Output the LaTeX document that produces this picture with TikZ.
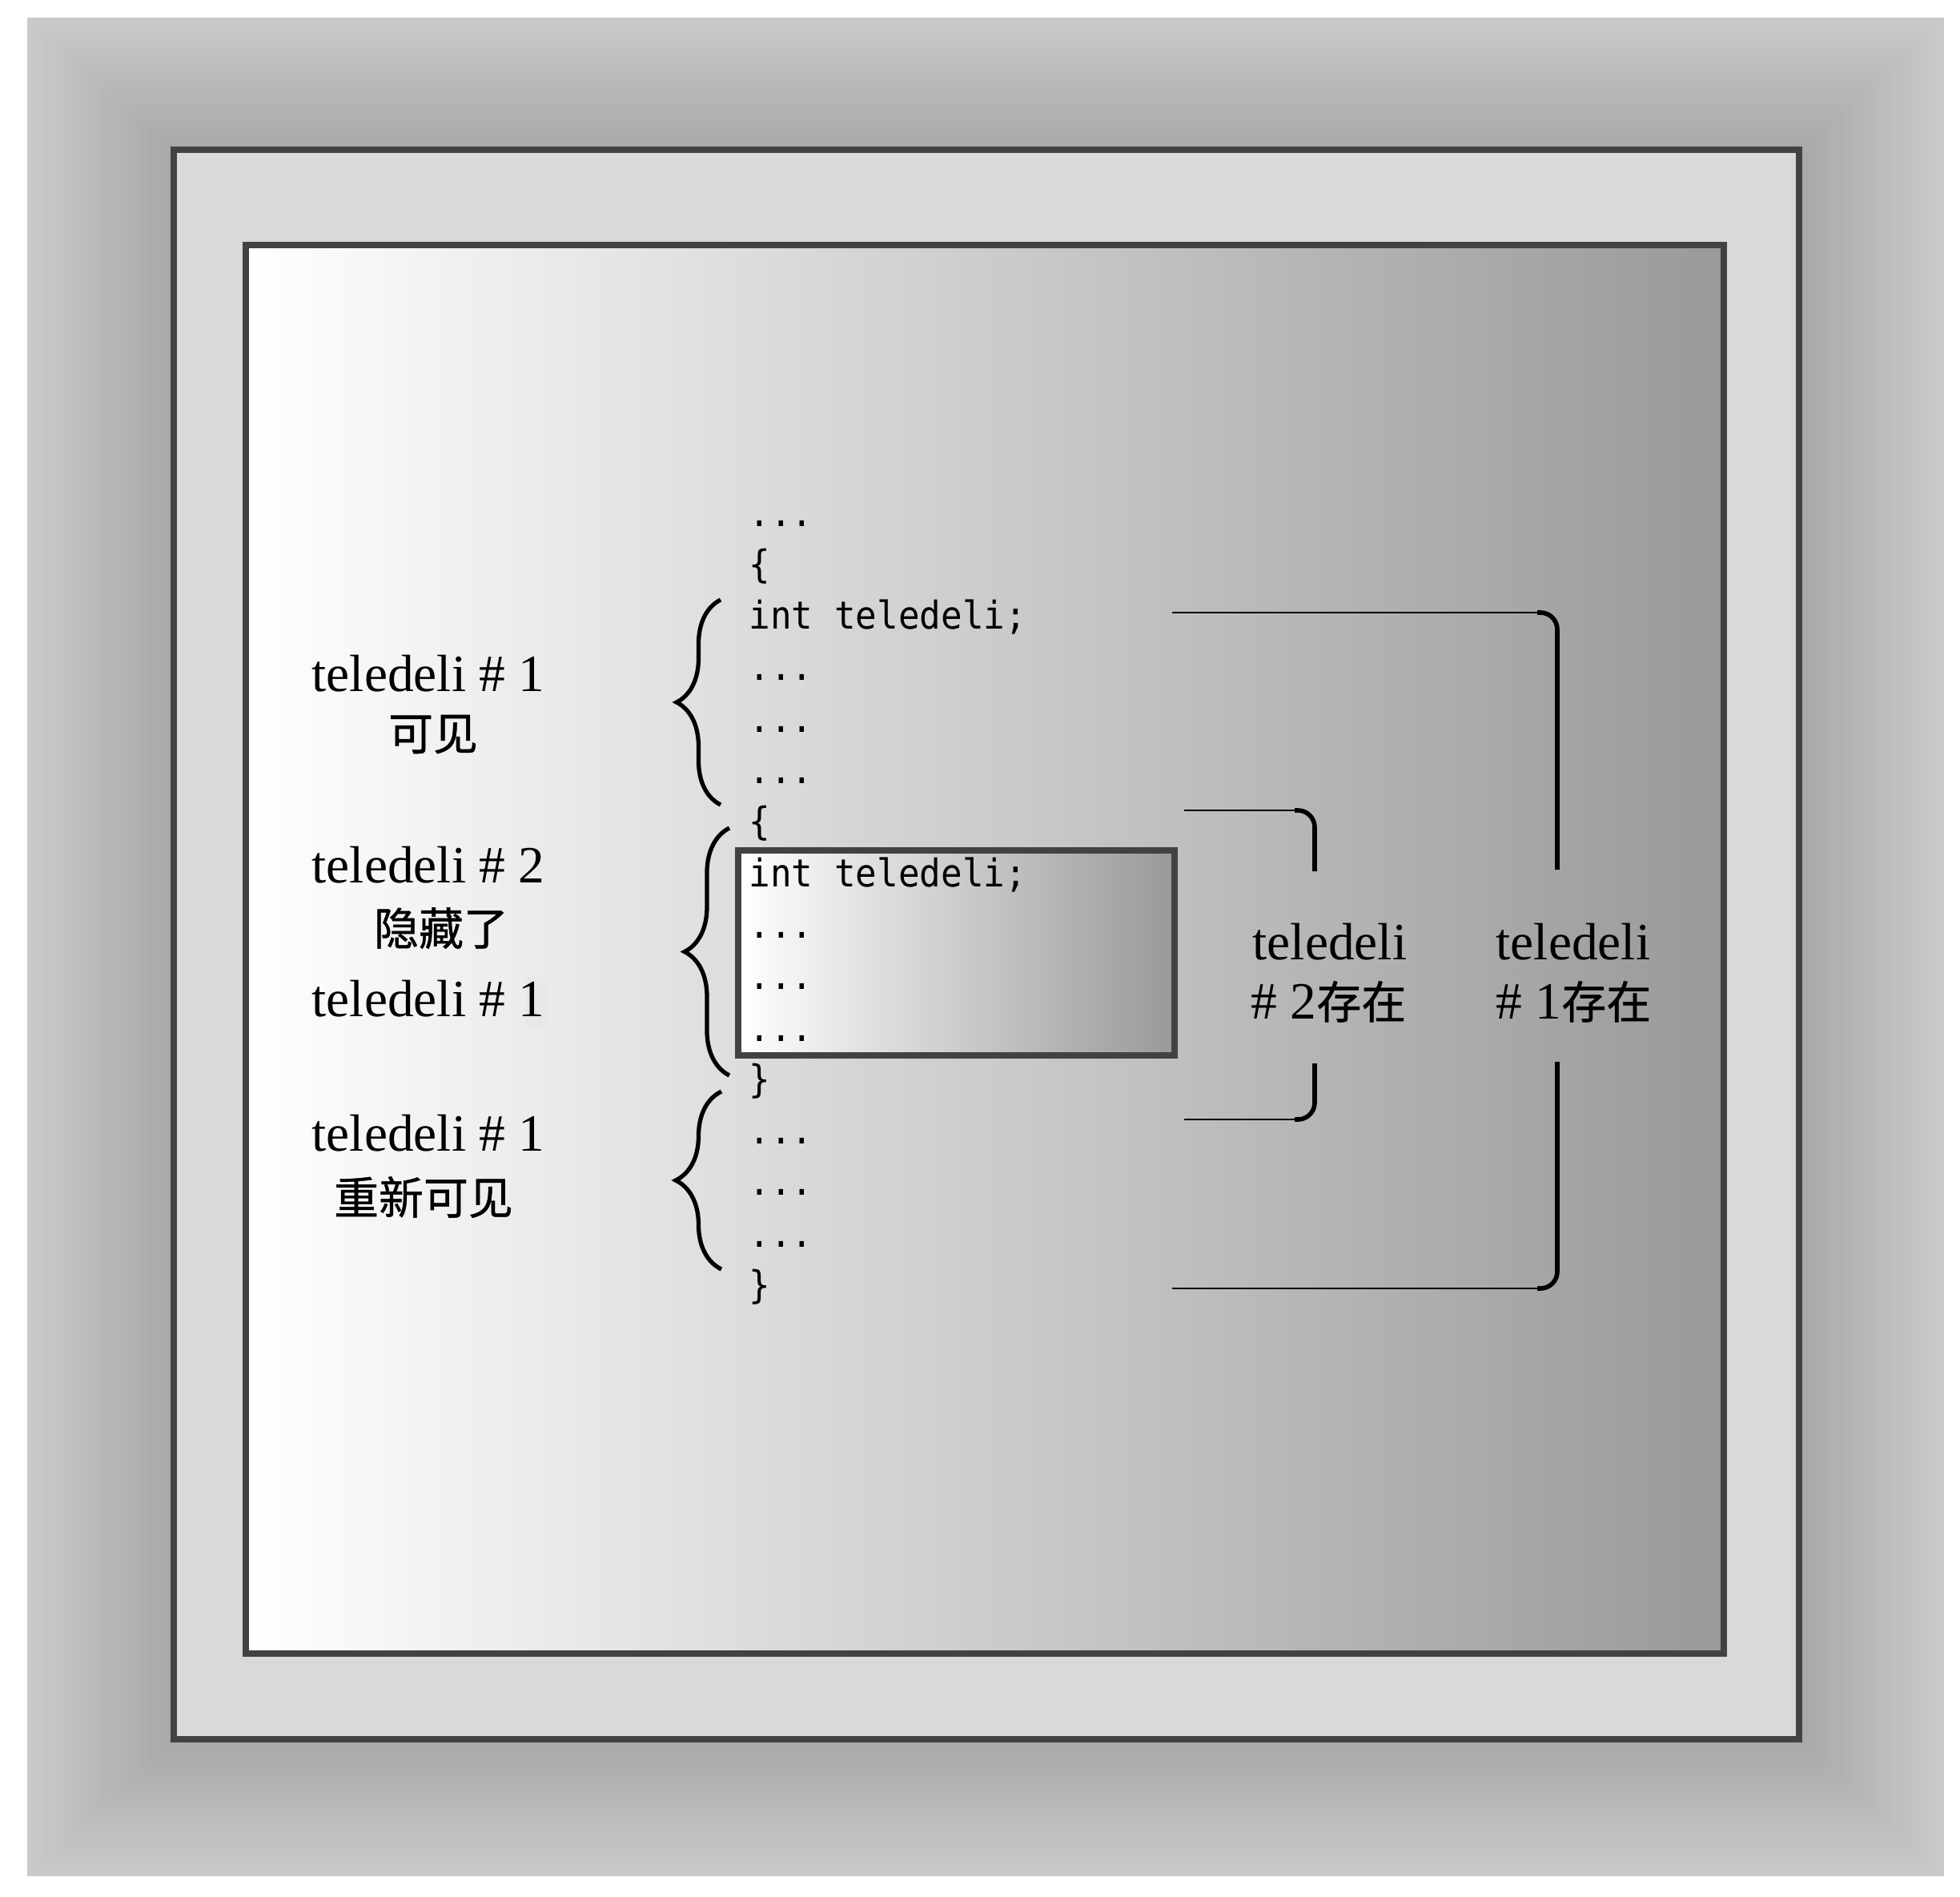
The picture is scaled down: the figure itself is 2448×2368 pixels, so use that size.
\documentclass[tikz,border=0pt]{standalone}
\usepackage{fontspec}
\setmainfont{Liberation Serif}
\setmonofont[FakeStretch=0.925]{DejaVu Sans Mono}
\newfontfamily\cjk[FakeBold=0.8]{Noto Sans CJK SC}
\usepackage{tikz}
\usepackage{xcolor}
\usetikzlibrary{positioning,decorations.pathreplacing}

\newcommand{\cn}[1]{{\cjk\fontsize{15.9}{19}\selectfont #1}}
\newcommand{\dotrow}{...}

\tikzset{
  frameline/.style={draw=black!74, line width=0.08cm},
  lbl/.style={font=\fontsize{18.6}{22}\selectfont, inner sep=0pt, anchor=base west},
  cnlbl/.style={font=\cjk\fontsize{15.9}{19}\selectfont, inner sep=0pt},
  codeline/.style={font=\ttfamily\fontsize{13.6}{16}\selectfont, inner sep=0pt, anchor=base west},
  scopebrace/.style={decorate, decoration={brace, amplitude=#1}, line width=1.5pt},
  hbar/.style={line width=0.6pt, rounded corners=0.21cm},
  vbar/.style={line width=1.6pt, rounded corners=0.21cm}
}

\begin{document}
\begin{tikzpicture}[x=0.01cm, y=-0.01cm]
  \useasboundingbox (0,0) rectangle (2448,2368);

  % outer shaded border
  \foreach \i in {0,...,40}{
    \pgfmathsetmacro\p{21+13*\i/40}
    \fill[black!\p] ({34+179*\i/40},{22+161*\i/40}) rectangle ({2428-177*\i/40},{2343-167*\i/40});
  }

  \draw[frameline, fill=black!15] (217,186.5) rectangle (2247,2172);
  \shadedraw[frameline, left color=white, right color=black!40] (307,306) rectangle (2153,2065);

  % inner block
  \shadedraw[frameline, left color=white, right color=black!40] (922,1062) rectangle (1467,1318);

  % code
  \foreach \t [count=\i from 0] in {\dotrow,\{,{int teledeli;},\dotrow,\dotrow,\dotrow,\{,{int teledeli;},\dotrow,\dotrow,\dotrow,\},\dotrow,\dotrow,\dotrow,\}}
    \node[codeline] (c\i) at (935,{657+64.3*\i}) {\t};

  % labels on the left
  \fill[black!9] (657,1221) rectangle (684,1284);
  \node[lbl] (vis1) at (389,863) {teledeli \# 1};
  \node[cnlbl] (vis1cn) at (541,917) {可见};
  \node[lbl] (hid2) at (389,1102) {teledeli \# 2};
  \node[cnlbl] (hid2cn) at (551,1159) {隐藏了};
  \node[lbl] (hid1) at (389,1269) {teledeli \# 1};
  \node[lbl] (vis1b) at (389,1437) {teledeli \# 1};
  \node[cnlbl] (vis1bcn) at (529,1495) {重新可见};

  % labels on the right
  \node[lbl] (ex2a) at (1564,1198) {teledeli};
  \node[lbl] (ex2b) at (1562,1272) {\# 2\cn{存在}};
  \node[lbl] (ex1a) at (1868,1198) {teledeli};
  \node[lbl] (ex1b) at (1868,1272) {\# 1\cn{存在}};

  % braces
  \coordinate (br1t) at (900,749);
  \coordinate (br1b) at (900,1005);
  \coordinate (br2t) at (911,1034);
  \coordinate (br2b) at (911,1343);
  \coordinate (br3t) at (901,1363);
  \coordinate (br3b) at (901,1585);
  \draw[scopebrace=0.55cm] (br1b) -- (br1t);
  \draw[scopebrace=0.56cm] (br2b) -- (br2t);
  \draw[scopebrace=0.57cm] (br3b) -- (br3t);

  % lifetime brackets
  \coordinate (ex1s) at (1464,765);
  \coordinate (ex1k) at (1920,765);
  \coordinate (ex1u) at (1945,1086);
  \coordinate (ex1d) at (1945,1326);
  \coordinate (ex1j) at (1920,1609);
  \coordinate (ex1e) at (1464,1609);
  \draw[hbar] (ex1s) -- (ex1k);
  \draw[vbar] (ex1k) -| (ex1u);
  \draw[hbar] (ex1e) -- (ex1j);
  \draw[vbar] (ex1j) -| (ex1d);

  \coordinate (ex2s) at (1479,1012);
  \coordinate (ex2k) at (1617,1012);
  \coordinate (ex2u) at (1642,1088);
  \coordinate (ex2d) at (1642,1328);
  \coordinate (ex2j) at (1617,1398);
  \coordinate (ex2e) at (1479,1398);
  \draw[hbar] (ex2s) -- (ex2k);
  \draw[vbar] (ex2k) -| (ex2u);
  \draw[hbar] (ex2e) -- (ex2j);
  \draw[vbar] (ex2j) -| (ex2d);
\end{tikzpicture}
\end{document}
